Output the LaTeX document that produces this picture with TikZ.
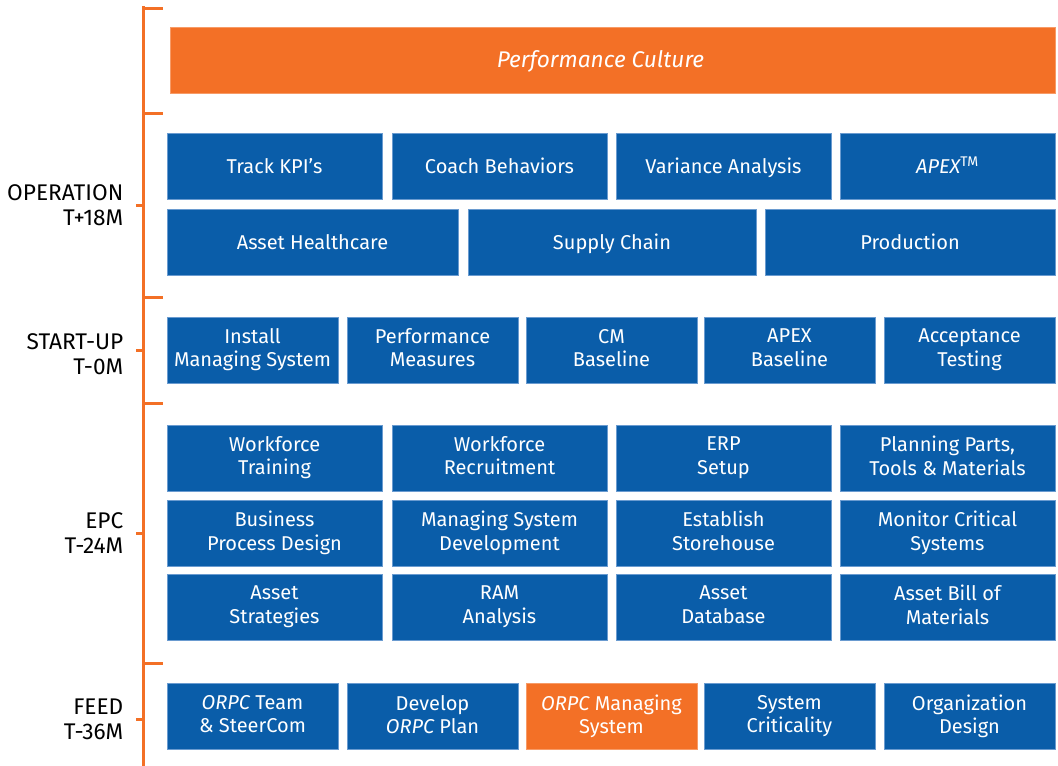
\documentclass[tikz,border=0pt]{standalone}
\usepackage{fontspec}
\setmainfont{Fira Sans}
\usepackage{tikz}
\definecolor{orpcblue}{HTML}{0A5DA9}
\definecolor{orpcedge}{HTML}{6A9BD0}
\definecolor{orpcorange}{HTML}{F37026}
\begin{document}
\begin{tikzpicture}[
    x=0.75pt, y=-0.75pt, % 1 unidad = 1 pixel de la referencia
    font=\fontsize{15}{17.5}\selectfont,
    blk/.style={fill=orpcblue, draw=orpcedge, line width=0.6pt, text=white,
        inner sep=0pt, minimum height=49.5pt, align=center,
        execute at begin node=\rule{0pt}{14.5pt},
        execute at end node=\rule[-3.5pt]{0pt}{0pt}}, % caja azul
    hot/.style={blk, fill=orpcorange, draw=orpcorange!70!white}, % caja naranja
    w4/.style={minimum width=161.25pt}, % ancho de 4 columnas
    w5/.style={minimum width=128.25pt}, % ancho de 5 columnas
    phase/.style={anchor=east, align=right, text=black,
        font=\fontsize{17}{19}\selectfont}, % etiquetas de fase
    bracket/.style={orpcorange, line width=2.25pt} % llave naranja
]
    \useasboundingbox (0,0) rectangle (1058,765);

    % --- Llave de fases ---
    \draw[bracket] (143,6) -- (143,770);
    \foreach \y in {8,113,297,403,663}
        \draw[bracket] (142,\y) -- (163,\y);
    \foreach \y in {205,350,533,719}
        \draw[bracket] (136,\y) -- (144,\y);

    % --- Etiquetas de fase ---
    \node[phase] (operation) at (128,205) {OPERATION\\T+18M};
    \node[phase] (startup)   at (128,354) {START-UP\\T-0M};
    \node[phase] (epc)       at (128,533) {EPC\\T-24M};
    \node[phase] (feed)      at (128,719) {FEED\\T-36M};

    % --- Cultura ---
    \node[hot, minimum width=663.75pt, font=\fontsize{17}{20}\selectfont] (culture) at (612.5,60)
        {\itshape Performance Culture\hspace*{18pt}};

    % --- Operation ---
    \node[blk, w4] (kpi)      at (274.5,166) {Track KPI's};
    \node[blk, w4] (coach)    at (499.5,166) {Coach Behaviors};
    \node[blk, w4] (variance) at (723.5,166) {Variance Analysis};
    \node[blk, w4] (apex)     at (947.5,166) {{\itshape APEX}\textsuperscript{TM}};
    \node[blk, minimum width=218.25pt] (health) at (312.5,242) {Asset Healthcare};
    \node[blk, minimum width=216pt]    (supply) at (612,242)   {Supply Chain};
    \node[blk, minimum width=217.5pt]  (prod)   at (910,242)   {Production};

    % --- Start-up ---
    \node[blk, w5] (install)  at (252.5,350) {Install\\Managing System};
    \node[blk, w5] (measures) at (432.5,350) {Performance\\Measures};
    \node[blk, w5] (cmbase)   at (611.5,350) {CM\\Baseline};
    \node[blk, w5] (apexbase) at (789.5,350) {APEX\\Baseline};
    \node[blk, w5] (accept)   at (969.5,350) {Acceptance\\Testing};

    % --- EPC ---
    \node[blk, w4] (training) at (274.5,458) {Workforce\\Training};
    \node[blk, w4] (recruit)  at (499.5,458) {Workforce\\Recruitment};
    \node[blk, w4] (erp)      at (723.5,458) {ERP\\Setup};
    \node[blk, w4] (parts)    at (947.5,458) {Planning Parts,\\Tools \& Materials};
    \node[blk, w4] (process)  at (274.5,533) {Business\\Process Design};
    \node[blk, w4] (msdev)    at (499.5,533) {Managing System\\Development};
    \node[blk, w4] (store)    at (723.5,533) {Establish\\Storehouse};
    \node[blk, w4] (monitor)  at (947.5,533) {Monitor Critical\\Systems};
    \node[blk, w4] (strat)    at (274.5,607) {Asset\\Strategies};
    \node[blk, w4] (ram)      at (499.5,607) {RAM\\Analysis};
    \node[blk, w4] (assetdb)  at (723.5,607) {Asset\\Database};
    \node[blk, w4] (bom)      at (947.5,607) {Asset Bill of\\Materials};

    % --- FEED ---
    \node[blk, w5] (team)     at (252.5,716.5) {{\itshape ORPC} Team\\\& SteerCom};
    \node[blk, w5] (plan)     at (432.5,716.5) {Develop\\{\itshape ORPC} Plan};
    \node[hot, w5] (orpcms)   at (611.5,716.5) {{\itshape ORPC} Managing\\System};
    \node[blk, w5] (crit)     at (789.5,716.5) {System\\Criticality};
    \node[blk, w5] (org)      at (969.5,716.5) {Organization\\Design};

\end{tikzpicture}
\end{document}
